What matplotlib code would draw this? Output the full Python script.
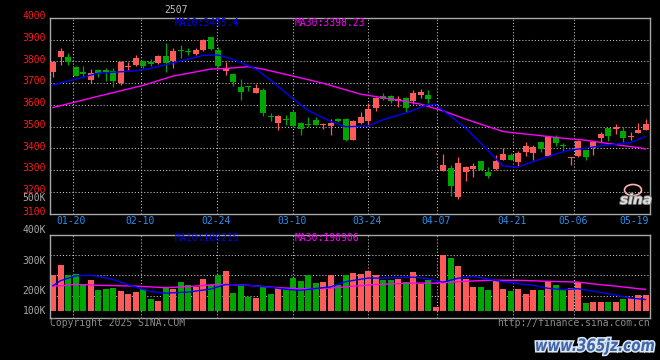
import matplotlib
matplotlib.use("Agg")
import matplotlib.pyplot as plt
import matplotlib.patheffects as pe
from matplotlib import transforms
from matplotlib.patches import Ellipse, PathPatch
from matplotlib.textpath import TextPath
from matplotlib.font_manager import FontProperties
import numpy as np

# daily bars of contract 2507, one entry per session (80 sessions)
opens = [3750, 3822, 3822, 3776, 3750, 3715, 3762, 3760, 3757, 3700,
         3773, 3784, 3802, 3798, 3793, 3825, 3804, 3853, 3850, 3834,
         3853, 3911, 3853, 3758, 3742, 3684, 3687, 3657, 3669, 3547,
         3518, 3535, 3569, 3516, 3512, 3530, 3506, 3503, 3534, 3535,
         3439, 3516, 3526, 3587, 3642, 3640, 3616, 3630, 3620, 3646,
         3646, 3377, 3298, 3311, 3178, 3294, 3304, 3342, 3290, 3304,
         3347, 3370, 3336, 3385, 3380, 3431, 3367, 3451, 3412, 3358,
         3365, 3393, 3403, 3450, 3493, 3490, 3482, 3452, 3473, 3485]
highs = [3800, 3863, 3837, 3779, 3777, 3765, 3766, 3768, 3770, 3802,
         3799, 3830, 3805, 3810, 3828, 3886, 3863, 3876, 3860, 3862,
         3902, 3913, 3866, 3797, 3745, 3718, 3688, 3696, 3680, 3561,
         3552, 3554, 3572, 3520, 3543, 3547, 3515, 3534, 3540, 3540,
         3530, 3569, 3607, 3638, 3654, 3645, 3643, 3638, 3669, 3672,
         3668, 3380, 3376, 3325, 3362, 3320, 3335, 3344, 3313, 3372,
         3400, 3381, 3390, 3431, 3418, 3433, 3458, 3462, 3427, 3363,
         3440, 3395, 3435, 3477, 3495, 3512, 3500, 3477, 3515, 3535]
lows = [3728, 3785, 3783, 3732, 3728, 3703, 3727, 3708, 3681, 3690,
        3760, 3777, 3770, 3778, 3790, 3753, 3771, 3815, 3828, 3830,
        3848, 3855, 3775, 3738, 3688, 3623, 3662, 3655, 3549, 3528,
        3487, 3508, 3500, 3462, 3500, 3506, 3488, 3462, 3522, 3433,
        3437, 3512, 3510, 3574, 3624, 3607, 3590, 3569, 3603, 3630,
        3610, 3376, 3296, 3181, 3166, 3252, 3268, 3300, 3263, 3302,
        3345, 3345, 3318, 3365, 3347, 3385, 3365, 3412, 3385, 3325,
        3363, 3347, 3370, 3431, 3436, 3466, 3431, 3440, 3472, 3483]
closes = [3798, 3850, 3796, 3735, 3742, 3748, 3747, 3750, 3712, 3799,
          3780, 3817, 3778, 3790, 3825, 3794, 3848, 3848, 3843, 3853,
          3899, 3857, 3777, 3768, 3707, 3661, 3682, 3676, 3564, 3545,
          3549, 3533, 3503, 3488, 3508, 3508, 3512, 3518, 3526, 3437,
          3526, 3543, 3581, 3633, 3626, 3620, 3627, 3588, 3656, 3660,
          3626, 3379, 3324, 3227, 3335, 3313, 3319, 3302, 3274, 3342,
          3376, 3347, 3380, 3411, 3408, 3397, 3454, 3427, 3410, 3362,
          3436, 3362, 3431, 3465, 3459, 3500, 3447, 3458, 3486, 3512]
volumes = [177, 230, 180, 185, 127, 155, 105, 110, 115, 98,
           85, 93, 110, 60, 48, 118, 110, 143, 130, 118,
           160, 127, 180, 198, 90, 132, 68, 65, 118, 85,
           113, 107, 165, 148, 180, 140, 143, 180, 127, 180,
           190, 185, 198, 177, 155, 155, 160, 143, 193, 135,
           152, 18, 280, 265, 223, 160, 118, 118, 105, 152,
           110, 98, 110, 85, 105, 102, 147, 130, 107, 113,
           143, 38, 43, 43, 43, 43, 60, 63, 77, 80]

# moving averages (session index, value)
ma10_idx = [0, 6, 11, 13, 17, 20, 22, 24, 27, 29, 32, 34, 37, 39, 42, 44, 47,
            50, 51, 52, 55, 57, 59, 60, 62, 63, 66, 68, 69, 71, 73, 75, 77, 79]
ma10_val = [3692, 3746, 3757, 3768, 3802, 3828, 3830, 3810, 3766, 3715, 3628,
            3575, 3525, 3500, 3503, 3532, 3563, 3602, 3603, 3575, 3495, 3425,
            3355, 3320, 3313, 3328, 3362, 3385, 3393, 3401, 3412, 3420, 3427, 3455]
ma30_idx = [0, 6, 12, 16, 19, 21, 23, 26, 28, 32, 36, 41, 46, 49, 52, 55, 57,
            60, 62, 64, 68, 71, 73, 76, 78, 79]
ma30_val = [3588, 3640, 3690, 3733, 3752, 3765, 3768, 3776, 3765, 3733, 3700,
            3650, 3622, 3604, 3573, 3535, 3512, 3478, 3470, 3463, 3447, 3438,
            3428, 3413, 3404, 3398]
vma10_idx = [0, 1, 3, 5, 6, 8, 10, 13, 15, 18, 21, 23, 26, 29, 31, 33, 35, 37,
             39, 42, 44, 48, 50, 52, 54, 56, 58, 60, 62, 64, 66, 68, 70, 72, 75, 77, 79]
vma10_val = [125, 150, 174, 177, 172, 156, 130, 96, 88, 93, 108, 131, 127, 117,
             107, 102, 111, 119, 145, 163, 163, 168, 160, 143, 162, 172, 158, 145,
             135, 127, 112, 105, 110, 98, 78, 63, 56]
vma30_idx = [0, 2, 3, 6, 11, 15, 19, 22, 26, 30, 33, 37, 39, 43, 48, 51, 55, 58,
             62, 66, 70, 73, 75, 78, 79]
vma30_val = [123, 127, 132, 127, 123, 115, 123, 132, 127, 115, 110, 113, 119,
             131, 138, 138, 147, 152, 152, 147, 143, 130, 123, 110, 107]

price_ticks = [4000, 3900, 3800, 3700, 3600, 3500, 3400, 3300, 3200, 3100]
date_labels = ["01-20", "02-10", "02-24", "03-10", "03-24", "04-07", "04-21", "05-06"]
date_pos = [2.63, 11.76, 21.84, 31.97, 41.97, 51.24, 61.37, 69.51]
last_date = "05-19"
vol_labels = ["400K", "300K", "200K", "100K"]
vol_label_pos = [402, 250, 100, 0]

W, H = 660, 360
RED = "#ff5a5a"
GREEN = "#00a600"
GRID = "#c8c8c8"
FRAME = "#a8a8a8"
GRAY = "#a8a8a8"
MONO = "DejaVu Sans Mono"
FS = 7


def fx(px):
    return px / W


def fy(py):
    return 1 - py / H


fig = plt.figure(figsize=(6.6, 3.6), dpi=100, facecolor="black")
ax = fig.add_axes([fx(50), fy(213.7), 600 / W, (213.7 - 18) / H])
axv = fig.add_axes([fx(50), fy(318.3), 600 / W, (318.3 - 234.7) / H])

x = np.arange(len(closes))
o = np.array(opens)
c = np.array(closes)
up = c >= o
colors = np.where(up, RED, GREEN)

dots = (0, (1, 2))
for a in (ax, axv):
    a.set_facecolor("black")
    a.set_xlim(-0.4, 79.6)
    a.set_xticks([])
    a.set_yticks([])
    for s in a.spines.values():
        s.set_color(FRAME)
        s.set_linewidth(1)
    for t in date_pos:
        a.axvline(t, color=GRID, lw=0.75, ls=dots, zorder=0)

# price panel
ax.set_ylim(3100, 4000)
for p in price_ticks[1:-1]:
    ax.axhline(p, color=GRID, lw=0.75, ls=dots, zorder=0)
ax.vlines(x, lows, highs, colors=colors, lw=0.9, zorder=2)
ax.bar(x, np.maximum(np.abs(c - o), 4), bottom=np.minimum(o, c), width=0.8,
       color=colors, lw=0, zorder=3)
ax.plot(ma30_idx, ma30_val, color="#ff00ff", lw=1, zorder=4)
ax.plot(ma10_idx, ma10_val, color="#0000ff", lw=1, zorder=4)

lab_tr = transforms.blended_transform_factory(ax.transAxes, ax.transData)
lab_tr = lab_tr + transforms.ScaledTranslation(-4 / 100, 1.8 / 100, fig.dpi_scale_trans)
for p in price_ticks:
    ax.text(0, p, str(p), transform=lab_tr, ha="right", va="center",
            color="#ff1a1a", fontsize=FS, family=MONO, clip_on=False)
ax.text(0, 3163, "500K", transform=lab_tr, ha="right", va="center",
        color=GRAY, fontsize=FS, family=MONO, clip_on=False)

# volume panel
axv.set_ylim(-38, 380)
for g in [75, 178.5, 278.5]:
    axv.axhline(g, color=GRID, lw=0.75, ls=dots, zorder=0)
axv.bar(x, volumes, width=0.8, color=colors, lw=0, zorder=2)
axv.plot(vma30_idx, vma30_val, color="#ff00ff", lw=1, zorder=3)
axv.plot(vma10_idx, vma10_val, color="#0000ff", lw=1, zorder=3)

vtr = transforms.blended_transform_factory(axv.transAxes, axv.transData)
vtr = vtr + transforms.ScaledTranslation(-4 / 100, 0, fig.dpi_scale_trans)
for lbl, v in zip(vol_labels, vol_label_pos):
    axv.text(0, v, lbl, transform=vtr, ha="right", va="center",
             color=GRAY, fontsize=FS, family=MONO, clip_on=False)

# date labels between the panels
dtr = transforms.blended_transform_factory(ax.transData, fig.transFigure)
for lbl, t in zip(date_labels, date_pos):
    fig.text(t - 0.16, fy(221.5), lbl, transform=dtr, ha="center", va="center",
             color="#2a90f0", fontsize=FS, family=MONO)
fig.text(fx(649), fy(221.5), last_date, ha="right", va="center",
         color="#2a90f0", fontsize=FS, family=MONO)

# header texts
fig.text(fx(176.5), fy(9.7), "2507", ha="center", va="center",
         color="#c0c0c0", fontsize=FS, family=MONO)
fig.text(fx(175), fy(23.3), "MA10:3455.4", ha="left", va="center",
         color="#0000ff", fontsize=FS, family=MONO)
fig.text(fx(295), fy(23.3), "MA30:3398.23", ha="left", va="center",
         color="#ff00ff", fontsize=FS, family=MONO)
fig.text(fx(175), fy(238), "MA10:100215", ha="left", va="center",
         color="#0000e0", fontsize=FS, family=MONO)
fig.text(fx(295), fy(238), "MA30:190906", ha="left", va="center",
         color="#ff00ff", fontsize=FS, family=MONO)

# footer
fig.text(fx(50), fy(323.5), "Copyright 2025 SINA.COM", ha="left", va="center",
         color="#8c8c8c", fontsize=FS, family=MONO)
fig.text(fx(649.5), fy(323.5), "http://finance.sina.com.cn", ha="right",
         va="center", color="#8c8c8c", fontsize=FS, family=MONO)

# sina logo
fig.add_artist(Ellipse((fx(633), fy(190)), 17 / W, 11 / H, fill=False,
                       ec="#ffb4b4", lw=1.2, transform=fig.transFigure))
fig.text(fx(636), fy(200), "sina", ha="center", va="center", color="#dcdcdc",
         fontsize=10, weight="bold", style="italic",
         path_effects=[pe.withStroke(linewidth=1.2, foreground="#808080")])

# site watermark, squeezed horizontally into its box
wm_fp = FontProperties(family="DejaVu Sans", weight="bold", style="italic")
wm_path = TextPath((0, 0), "www.365jz.com", size=1, prop=wm_fp)
bb = wm_path.get_extents()
sx = (118 / W) / bb.width
sy = 17 / H
wm_tr = transforms.Affine2D().scale(sx, sy).translate(fx(536) - bb.x0 * sx, fy(351)) + fig.transFigure
wm = PathPatch(wm_path, transform=wm_tr, fc="#3f66a8", ec="none",
               path_effects=[pe.withStroke(linewidth=2.2, foreground="#dce6f4")])
fig.add_artist(wm)

fig.savefig("out.png", dpi=100, facecolor="black")
